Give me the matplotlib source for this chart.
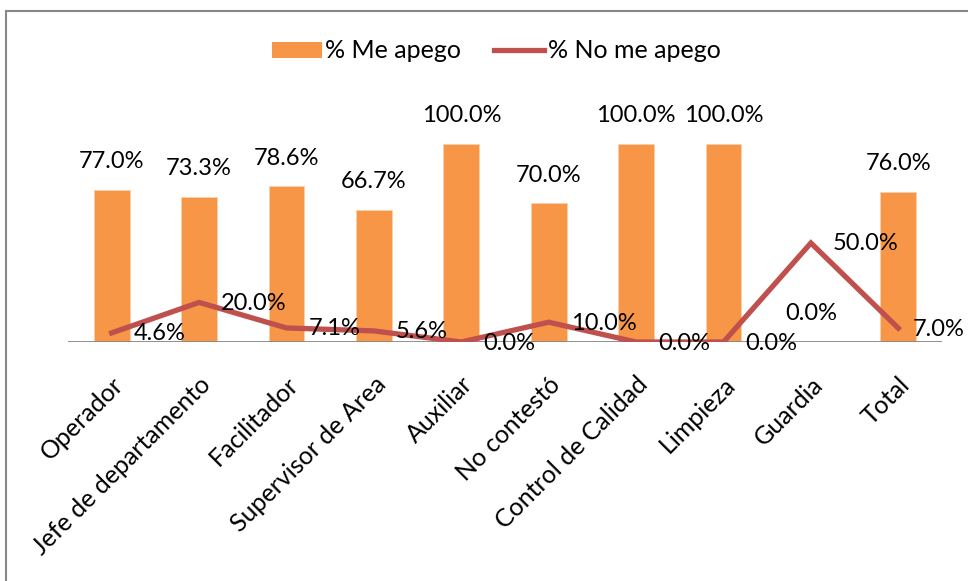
import matplotlib
matplotlib.use('Agg')
from matplotlib import pyplot as plt
from matplotlib.patches import Patch, Rectangle
from matplotlib.lines import Line2D

categorias = ['Operador', 'Jefe de departamento', 'Facilitador', 'Supervisor de Area',
              'Auxiliar', 'No contestó', 'Control de Calidad', 'Limpieza', 'Guardia', 'Total']
me_apego = [77.0, 73.3, 78.6, 66.7, 100.0, 70.0, 100.0, 100.0, 0.0, 76.0]
no_me_apego = [4.6, 20.0, 7.1, 5.6, 0.0, 10.0, 0.0, 0.0, 50.0, 7.0]

naranja = '#F79646'
rojo = '#C0504D'
gris = '#878787'

plt.rcParams['font.family'] = ['Lato', 'DejaVu Sans']

fig = plt.figure(figsize=(9.68, 5.81), dpi=100)
ax = fig.add_axes([68/968, (581-342)/581, 874/968, 237.6/581])

x = list(range(len(categorias)))
ax.bar(x, me_apego, width=0.41, color=naranja, edgecolor='#FBD0A8', lw=0.6, zorder=2)
ax.plot(x, no_me_apego, color=rojo, lw=3.8, solid_joinstyle='miter', zorder=4)
ax.axhline(0, color=gris, lw=1.3, zorder=3)

ax.set_xlim(-0.5, len(categorias) - 0.5)
ax.set_ylim(0, 120)
for s in ax.spines.values():
    s.set_visible(False)
ax.set_yticks([])
ax.set_xticks(x)
ax.set_xticklabels(categorias, rotation=45, ha='right', rotation_mode='anchor',
                   fontsize=18)
ax.tick_params(axis='x', length=0, pad=22)

# etiquetas de datos
for xi, v in zip(x, me_apego):
    ax.annotate('%.1f%%' % v, (xi, v), xytext=(0, 28), textcoords='offset pixels',
                ha='center', va='center', fontsize=17, zorder=5)
for i, (xi, v) in enumerate(zip(x, no_me_apego)):
    # la ultima etiqueta se acerca al punto para no salirse del grafico
    dx = 14 if i == len(x) - 1 else 22
    ax.annotate('%.1f%%' % v, (xi, v), xytext=(dx, -1), textcoords='offset pixels',
                ha='left', va='center', fontsize=17, zorder=5, annotation_clip=False)

handles = [Patch(facecolor=naranja, edgecolor='none'),
           Line2D([], [], color=rojo, lw=3.8)]
fig.legend(handles, ['% Me apego', '% No me apego'], loc='center',
           bbox_to_anchor=(496/968, 1 - 51/581), ncol=2, frameon=False,
           fontsize=18, handlelength=2.0, handleheight=0.6,
           handletextpad=0.15, columnspacing=1.3)

# marco del grafico
fig.patches.append(Rectangle((6/968, -0.1), 1.2, 0.1 + (581-11)/581,
                             transform=fig.transFigure, fill=False,
                             edgecolor=gris, lw=1.5))

fig.savefig('out.png', dpi=100)
